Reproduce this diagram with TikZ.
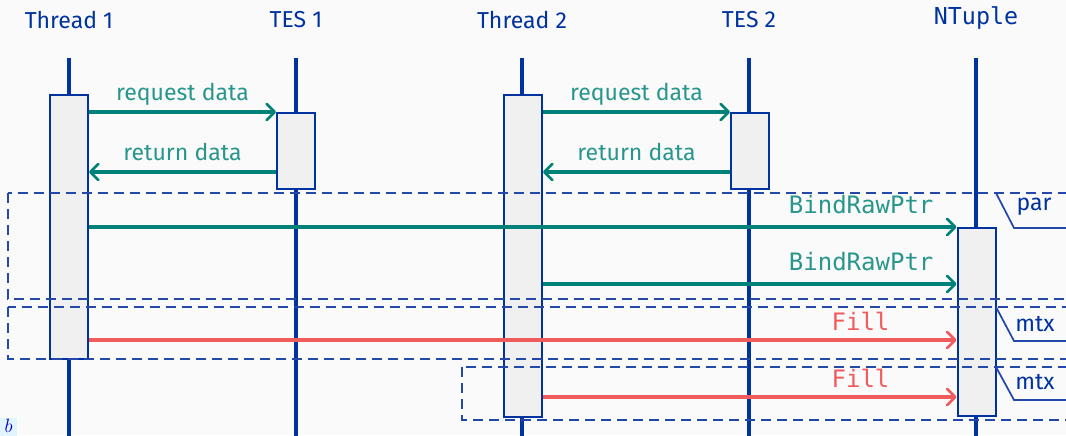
\documentclass[tikz,border=0pt]{standalone}
\usepackage{fontspec}
\setmainfont{Fira Sans}
\newfontfamily\codefont{DejaVu Sans Mono}
\usetikzlibrary{arrows.meta,calc}

\definecolor{lifeblue}{RGB}{0,51,160}
\definecolor{framblue}{RGB}{35,72,170}
\definecolor{msgteal}{RGB}{0,130,120}
\definecolor{txtteal}{RGB}{40,150,140}
\definecolor{msgred}{RGB}{240,92,92}
\definecolor{boxgray}{RGB}{240,240,240}
\definecolor{pagebg}{RGB}{250,250,250}

\tikzset{
  head/.style={text=lifeblue, font=\fontsize{17.3}{19}\selectfont, inner sep=0pt},
  codehead/.style={text=lifeblue, font=\codefont\fontsize{17.5}{19}\selectfont, inner sep=0pt},
  lifeline/.style={draw=lifeblue, line width=2.3pt},
  actbox/.style={draw=lifeblue, fill=boxgray, line width=1.5pt, minimum width=28.5pt, inner sep=0pt},
  tip/.style={-{Straight Barb[length=6pt,width=12pt,line width=2pt,line cap=round,line join=round]}},
  msg/.style={tip, draw=msgteal, line width=2.6pt},
  fillmsg/.style={tip, draw=msgred, line width=2.6pt},
  msglabel/.style={text=txtteal, font=\fontsize{17.3}{19}\selectfont, inner sep=0pt, anchor=base},
  codelabel/.style={text=txtteal, font=\codefont\fontsize{18}{20}\selectfont, inner sep=0pt, anchor=base east},
  filllabel/.style={text=msgred, font=\codefont\fontsize{18}{20}\selectfont, inner sep=0pt, anchor=base east},
  frame/.style={draw=framblue, line width=1.5pt, dash pattern=on 7.5pt off 4.5pt},
  tag/.style={draw=framblue, line width=1.3pt},
  tagtext/.style={text=lifeblue, font=\fontsize{17.3}{19}\selectfont, inner sep=0pt},
}

\begin{document}
\begin{tikzpicture}[x=0.75pt,y=-0.75pt]
  % page
  \fill[pagebg] (0,0) rectangle (1066,435);
  \useasboundingbox (0,0) rectangle (1066,435);

  % participants
  \node[head] (t1) at (69,20) {Thread 1};
  \node[head] (s1) at (296,20) {TES 1};
  \node[head] (t2) at (522,20) {Thread 2};
  \node[head] (s2) at (749,20) {TES 2};
  \node[codehead] (nt) at (976,18) {NTuple};

  % lifelines
  \foreach \p/\x in {t1/69, s1/296, t2/522, s2/749, nt/976} {
    \coordinate (\p top) at (\x,58);
    \coordinate (\p bot) at (\x,440);
    \draw[lifeline] (\p top) -- (\p bot);
  }

  % activation boxes
  \node[actbox, minimum height=198pt] (a1) at (69,226.5) {};
  \node[actbox, minimum height=57pt]  (b1) at (296,151) {};
  \node[actbox, minimum height=241.5pt] (a2) at (523,256) {};
  \node[actbox, minimum height=57pt]  (b2) at (750,151) {};
  \node[actbox, minimum height=141pt] (nb) at (976.5,322) {};

  % combined fragments
  \draw[frame] (8,193) rectangle (1080,299);
  \draw[frame] (8,307) rectangle (1080,359);
  \draw[frame] (462,367) rectangle (1080,420);

  \draw[tag] (996,193) -- (1014,228) -- (1070,228);
  \node[tagtext] (par) at (1034,207) {par};
  \draw[tag] (996,307) -- (1014,341) -- (1070,341);
  \node[tagtext] (mtx1) at (1035,324) {mtx};
  \draw[tag] (996,367) -- (1014,400) -- (1070,400);
  \node[tagtext] (mtx2) at (1035,382) {mtx};

  % request / return with the TES
  \draw[msg] (a1.east |- b1.north) -- (b1.north west)
    node[msglabel, midway, yshift=9pt] {request data};
  \draw[msg] ($(b1.south west)+(0,-18)$) -- (a1.east |- {$(b1.south west)+(0,-18)$})
    node[msglabel, midway, yshift=8.5pt] {return data};
  \draw[msg] (a2.east |- b2.north) -- (b2.north west)
    node[msglabel, midway, yshift=9pt] {request data};
  \draw[msg] ($(b2.south west)+(0,-18)$) -- (a2.east |- {$(b2.south west)+(0,-18)$})
    node[msglabel, midway, yshift=8.5pt] {return data};

  % calls into the NTuple
  \coordinate (nb1) at (nb.north west);
  \coordinate (nb2) at ($(nb.north west)+(0,57)$);
  \coordinate (nb3) at ($(nb.north west)+(0,113)$);
  \coordinate (nb4) at ($(nb.north west)+(0,170)$);

  \draw[msg] (a1.east |- nb1) -- (nb1)
    node[codelabel, pos=1, xshift=-16pt, yshift=10.5pt] {BindRawPtr};
  \draw[msg] (a2.east |- nb2) -- (nb2)
    node[codelabel, pos=1, xshift=-16pt, yshift=10.5pt] {BindRawPtr};
  \draw[fillmsg] (a1.east |- nb3) -- (nb3)
    node[filllabel, pos=1, xshift=-49pt, yshift=7.5pt] {Fill};
  \draw[fillmsg] (a2.east |- nb4) -- (nb4)
    node[filllabel, pos=1, xshift=-49pt, yshift=7.5pt] {Fill};

  % small marker at the lower left corner
  \fill[cyan!12] (0,418) rectangle (17,440);
  \node[text=blue!75!black, font=\fontsize{14}{16}\selectfont, inner sep=0pt,
        anchor=base] (mark) at (8.5,432) {$b$};
\end{tikzpicture}
\end{document}
